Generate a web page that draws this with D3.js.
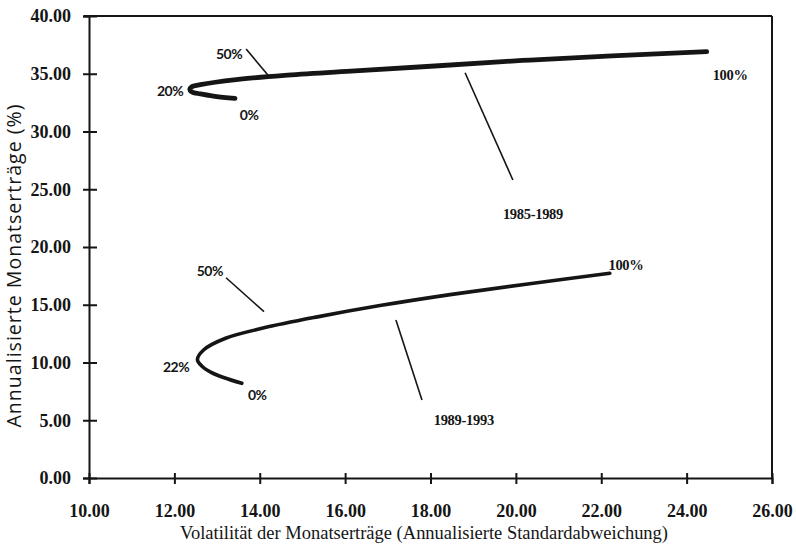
<!DOCTYPE html>
<html>
<head>
<meta charset="utf-8">
<script src="https://cdn.jsdelivr.net/npm/d3@7"></script>
<style>
  html, body { margin: 0; padding: 0; background: #fff; }
  svg { display: block; }
</style>
</head>
<body>
<svg id="chart" width="796" height="551"></svg>
<script>
// ---- Data ----
const xTicks = [10, 12, 14, 16, 18, 20, 22, 24, 26];
const yTicks = [0, 5, 10, 15, 20, 25, 30, 35, 40];

// 1985-1989 frontier: volatility (x) and return (y)
const sigma8589 = [13.42, 12.95, 12.61, 12.40, 12.36, 12.40, 12.61, 13.45, 14.65, 16.23, 18.10, 20.15, 22.25, 24.47];
const ret8589   = [32.87, 33.05, 33.25, 33.45, 33.65, 33.86, 34.06, 34.50, 34.88, 35.25, 35.67, 36.15, 36.55, 36.91];

// 1989-1993 frontier
const sigma8993 = [13.58, 13.17, 12.86, 12.66, 12.54, 12.69, 13.20, 14.10, 15.35, 16.85, 18.50, 20.28, 22.20];
const ret8993   = [8.20, 8.68, 9.15, 9.63, 10.25, 11.10, 12.10, 13.00, 13.95, 14.95, 15.90, 16.80, 17.72];

// Annotation labels (text, x, y in data units, style)
const labelTexts = ["50%", "20%", "0%", "100%", "1985-1989", "50%", "22%", "0%", "100%", "1989-1993"];
const labelX     = [13.28, 11.90, 13.75, 25.02, 20.40, 12.83, 12.04, 13.94, 22.58, 18.78];
const labelY     = [36.71, 33.51, 31.43, 34.89, 22.86, 17.92, 9.61, 7.19, 18.44, 5.02];
const labelSans  = [true, true, true, false, false, true, true, true, false, false];

// Pointer lines [x1, y1, x2, y2] in data units
const pointerX1 = [13.68, 18.81, 13.21, 17.19];
const pointerY1 = [37.14, 35.09, 17.34, 13.68];
const pointerX2 = [14.19, 19.93, 14.10, 17.80];
const pointerY2 = [34.89, 25.80, 14.40, 6.75];

// ---- Layout ----
const svg = d3.select("#chart");
const mLeft = 89, mRight = 772, mTop = 16, mBottom = 478;
const ink = "#151515";

const x = d3.scaleLinear().domain([10, 26]).range([mLeft, mRight]);
const y = d3.scaleLinear().domain([0, 40]).range([mBottom, mTop]);

// Frame (top and right)
svg.append("line").attr("x1", mLeft - 5).attr("x2", mRight).attr("y1", mTop).attr("y2", mTop)
  .attr("stroke", ink).attr("stroke-width", 2);
svg.append("line").attr("x1", mRight).attr("x2", mRight).attr("y1", mTop).attr("y2", mBottom)
  .attr("stroke", ink).attr("stroke-width", 2);

// X axis
const xAxis = svg.append("g").attr("transform", `translate(0,${mBottom})`)
  .call(d3.axisBottom(x).tickValues(xTicks).tickSize(6).tickPadding(20).tickFormat(d3.format(".2f")));
xAxis.select(".domain").attr("stroke", ink).attr("stroke-width", 2);
xAxis.selectAll(".tick line").attr("stroke", ink).attr("stroke-width", 2).attr("y1", -5);
xAxis.selectAll(".tick text")
  .attr("font-family", "'Liberation Serif', 'Times New Roman', serif")
  .attr("font-size", 18).attr("font-weight", "bold").attr("fill", ink);

// Y axis
const yAxis = svg.append("g").attr("transform", `translate(${mLeft},0)`)
  .call(d3.axisLeft(y).tickValues(yTicks).tickSize(6).tickPadding(12).tickFormat(d3.format(".2f")));
yAxis.select(".domain").attr("stroke", ink).attr("stroke-width", 2);
yAxis.selectAll(".tick line").attr("stroke", ink).attr("stroke-width", 2).attr("x2", 8).attr("x1", -6);
yAxis.selectAll(".tick text")
  .attr("font-family", "'Liberation Serif', 'Times New Roman', serif")
  .attr("font-size", 18).attr("font-weight", "bold").attr("fill", ink);

// Curves
const line = d3.line()
  .x(d => x(d[0]))
  .y(d => y(d[1]))
  .curve(d3.curveCatmullRom.alpha(0.5));

const pts8589 = sigma8589.map((s, i) => [s, ret8589[i]]);
const pts8993 = sigma8993.map((s, i) => [s, ret8993[i]]);

svg.append("path").datum(pts8589).attr("d", line)
  .attr("fill", "none").attr("stroke", ink).attr("stroke-width", 4.8)
  .attr("stroke-linecap", "round");
svg.append("path").datum(pts8993).attr("d", line)
  .attr("fill", "none").attr("stroke", ink).attr("stroke-width", 3.6)
  .attr("stroke-linecap", "round");

// Pointer lines
svg.selectAll("line.pointer").data(pointerX1).join("line")
  .attr("class", "pointer")
  .attr("x1", (d, i) => x(pointerX1[i])).attr("y1", (d, i) => y(pointerY1[i]))
  .attr("x2", (d, i) => x(pointerX2[i])).attr("y2", (d, i) => y(pointerY2[i]))
  .attr("stroke", ink).attr("stroke-width", 1.6);

// Labels
svg.selectAll("text.lbl").data(labelTexts).join("text")
  .attr("class", "lbl")
  .attr("x", (d, i) => x(labelX[i]))
  .attr("y", (d, i) => y(labelY[i]))
  .attr("dy", "0.35em")
  .attr("text-anchor", "middle")
  .attr("font-family", (d, i) => labelSans[i] ? "Lato, 'Open Sans', sans-serif" : "'Liberation Serif', serif")
  .attr("font-size", (d, i) => labelSans[i] ? 14 : 14.5)
  .attr("font-weight", "bold")
  .attr("letter-spacing", (d, i) => labelSans[i] ? -0.5 : -0.3)
  .attr("fill", ink)
  .text(d => d);

// Axis titles
svg.append("text")
  .attr("x", 424).attr("y", 539)
  .attr("text-anchor", "middle")
  .attr("font-family", "'Liberation Serif', 'Times New Roman', serif")
  .attr("font-size", 18.5).attr("fill", ink)
  .attr("textLength", 488).attr("lengthAdjust", "spacing")
  .text("Volatilität der Monatserträge (Annualisierte Standardabweichung)");

svg.append("text")
  .attr("transform", "translate(21,266) rotate(-90)")
  .attr("text-anchor", "middle")
  .attr("font-family", "'Open Sans', Lato, sans-serif")
  .attr("font-size", 19.5).attr("fill", ink)
  .attr("textLength", 323).attr("lengthAdjust", "spacing")
  .text("Annualisierte Monatserträge (%)");
</script>
</body>
</html>
